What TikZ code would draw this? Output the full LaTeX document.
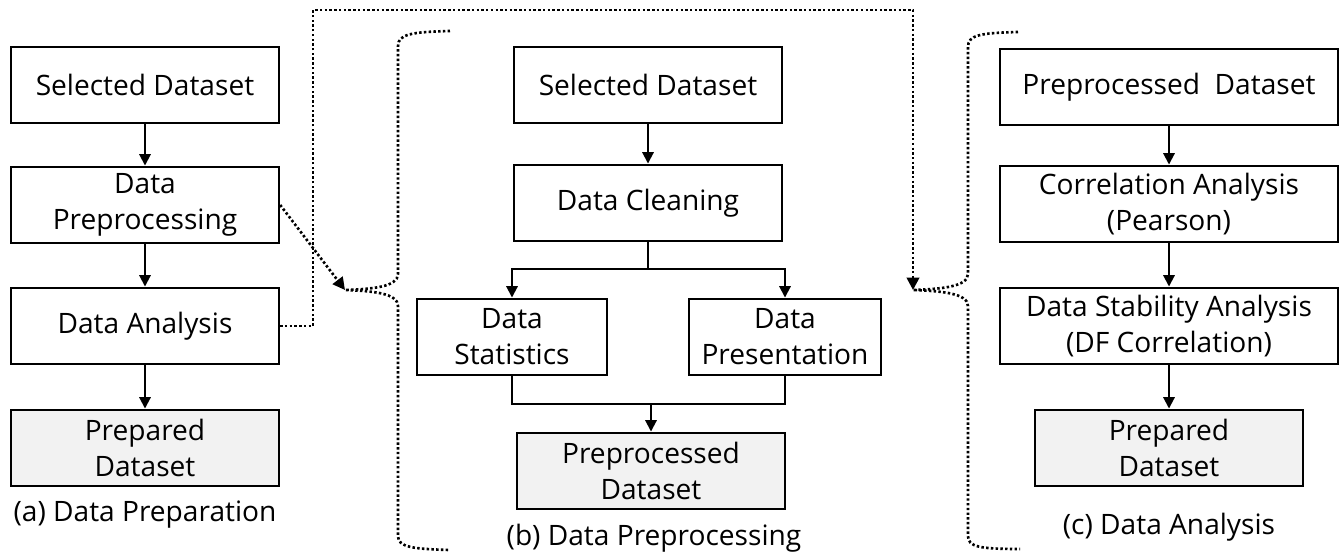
\documentclass[tikz,border=0pt]{standalone}
\usepackage{fontspec}
\setmainfont{Open Sans}
\usetikzlibrary{arrows.meta}

\begin{document}
\begin{tikzpicture}[x=0.02cm, y=-0.02cm,
  font=\fontsize{16}{20.5}\selectfont,
  box/.style={draw, line width=1.4pt, align=center, minimum height=1.53cm, inner sep=2pt},
  wide/.style={box, minimum width=5.36cm},
  done/.style={wide, fill=black!5},
  arr/.style={line width=1.1pt, -{Triangle[length=6.5pt,width=6.5pt]}},
  link/.style={line width=1.1pt},
  dotlink/.style={line width=1.5pt, dash pattern=on 1.4pt off 1.3pt},
  dotarr/.style={dotlink, -{Triangle[length=7pt,width=7pt]}}]
\useasboundingbox (0,0) rectangle (1343,554);

% (a) data preparation
\node[wide] (selA) at (145,85) {Selected Dataset};
\node[wide] (prepA) at (145,205) {Data\\Preprocessing};
\node[wide] (anaA) at (145,326) {Data Analysis};
\node[done] (outA) at (145,448) {Prepared\\Dataset};
\node (capA) at (145,515) {(a) Data Preparation};
\draw[arr] (selA) -- (prepA);
\draw[arr] (prepA) -- (anaA);
\draw[arr] (anaA) -- (outA);

% (b) data preprocessing
\node[wide] (selB) at (648,85) {Selected Dataset};
\node[wide] (cleanB) at (648,203) {Data Cleaning};
\node[box, minimum width=3.8cm] (statB) at (512,337) {Data\\Statistics};
\node[box, minimum width=3.84cm] (presB) at (785,337) {Data\\Presentation};
\node[done] (outB) at (651,471) {Preprocessed\\Dataset};
\node (capB) at (654,538) {(b) Data Preprocessing};
\coordinate (split) at (648,269);
\coordinate (merge) at (651,404);
\draw[arr] (selB) -- (cleanB);
\draw[link] (cleanB) -- (split);
\draw[arr] (split) -| (statB.north);
\draw[arr] (split) -| (presB.north);
\draw[link] (statB.south) |- (merge);
\draw[link] (presB.south) |- (merge);
\draw[arr] (merge) -- (outB);

% (c) data analysis
\node[box, minimum width=6.76cm] (selC) at (1169,87) {Preprocessed~ Dataset};
\node[box, minimum width=6.76cm] (corC) at (1169,204) {Correlation Analysis\\(Pearson)};
\node[box, minimum width=6.76cm] (stabC) at (1169,326) {Data Stability Analysis\\(DF Correlation)};
\node[done] (outC) at (1169,448) {Prepared\\Dataset};
\node (capC) at (1169,527) {(c) Data Analysis};
\draw[arr] (selC) -- (corC);
\draw[arr] (corC) -- (stabC);
\draw[arr] (stabC) -- (outC);

% dotted links and braces
\coordinate (tipB) at (345,290);
\coordinate (tipC) at (913,290);
\coordinate (up) at (313,10);
\draw[dotarr] (prepA.east) -- (tipB);
\draw[dotarr] (anaA.east) -| (up) -| (tipC);
\draw[dotlink] (450,31) .. controls (412,32) and (398,34) .. (398,46) -- (398,274)
  .. controls (398,287) and (372,289) .. (tipB)
  .. controls (372,291) and (398,293) .. (398,306) -- (398,536)
  .. controls (398,547) and (412,549) .. (450,550);
\draw[dotlink] (1018,32) .. controls (980,33) and (968,35) .. (968,47) -- (968,274)
  .. controls (968,287) and (940,289) .. (tipC)
  .. controls (940,291) and (968,293) .. (968,306) -- (968,536)
  .. controls (968,547) and (980,549) .. (1020,549);
\end{tikzpicture}
\end{document}
